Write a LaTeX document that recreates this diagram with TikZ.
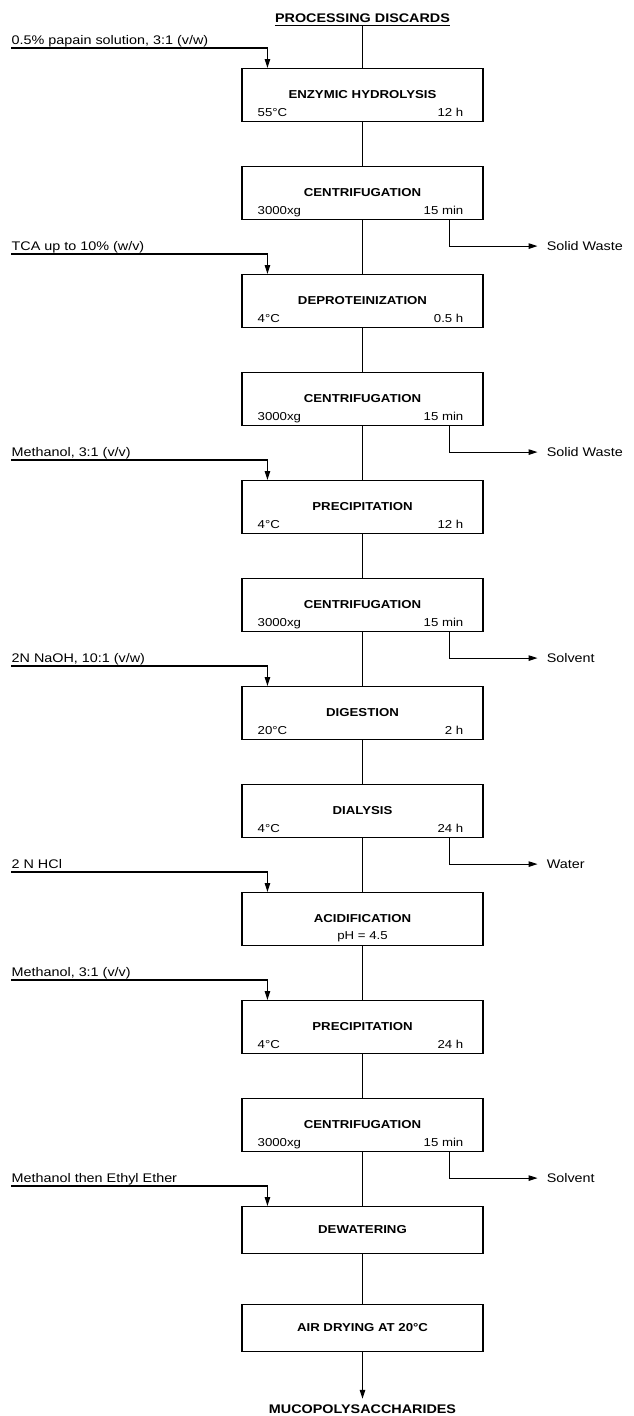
\documentclass[tikz,border=0pt]{standalone}
\usepackage{fontspec}
\setmainfont{Liberation Sans}[FakeStretch=1.15]
\usetikzlibrary{arrows.meta,calc}
\tikzset{
  box/.style={draw, line width=1.1pt, minimum width=241pt, inner sep=0pt, anchor=north},
  ttl/.style={font=\bfseries\fontsize{11.5}{13}\selectfont, inner sep=0pt, text height=8.2pt, text depth=0pt, anchor=base},
  sub/.style={font=\fontsize{11.5}{13}\selectfont, inner sep=0pt, text height=8.2pt, text depth=0pt},
  lab/.style={font=\fontsize{12.5}{14}\selectfont, inner sep=0pt, text height=9pt, text depth=0pt},
  flow/.style={line width=1.1pt},
  arr/.style={flow, -{Triangle[length=9pt,width=5.5pt]}},
}
\newcommand\procbox[5]{%
  \node[box, minimum height=53pt] (#1) at (362.5,#2) {};
  \node[ttl] (#1t) at ($(#1.north)+(0,30)$) {#3};
  \node[sub, anchor=base west] (#1l) at ($(#1.north west)+(16,48)$) {#4};
  \node[sub, anchor=base east] (#1r) at ($(#1.north east)+(-20,48)$) {#5};
}
\newcommand\feedline[3]{%
  \coordinate (#1s) at ($(#2.north west)+(-230,-20)$);
  \node[lab, anchor=base west] (#1) at ($(#1s)+(0,-4)$) {#3};
  \coordinate (#1e) at ($(#2.north west)+(26,0)$);
  \draw[arr] (#1s) -| (#1e);
}
\newcommand\wasteout[3]{%
  \coordinate (#1s) at ($(#2.south east)+(-34,0)$);
  \node[lab, anchor=base west] (#1) at ($(#1s)+(97,30.5)$) {#3};
  \draw[arr] (#1s) |- ([xshift=-9pt]#1.west);
}
\begin{document}
\begin{tikzpicture}[x=1pt,y=-1pt]
\useasboundingbox (0,0) rectangle (634,1416);

% title
\node[font=\bfseries\fontsize{12.5}{14}\selectfont, inner sep=0pt, text height=9pt, text depth=3pt, anchor=base] (top) at (362.5,22) {PROCESSING DISCARDS};
\draw[line width=1pt] (top.south west) -- (top.south east);

% boxes
\procbox{b1}{68}{ENZYMIC HYDROLYSIS}{55°C}{12 h}
\procbox{b2}{166}{CENTRIFUGATION}{3000xg}{15 min}
\procbox{b3}{274}{DEPROTEINIZATION}{4°C}{0.5 h}
\procbox{b4}{372}{CENTRIFUGATION}{3000xg}{15 min}
\procbox{b5}{480}{PRECIPITATION}{4°C}{12 h}
\procbox{b6}{578}{CENTRIFUGATION}{3000xg}{15 min}
\procbox{b7}{686}{DIGESTION}{20°C}{2 h}
\procbox{b8}{784}{DIALYSIS}{4°C}{24 h}
\node[box, minimum height=53pt] (b9) at (362.5,892) {};
\node[ttl] (b9t) at ($(b9.north)+(0,30)$) {ACIDIFICATION};
\node[sub, anchor=base] (b9l) at ($(b9.north)+(0,47)$) {pH = 4.5};
\procbox{b10}{1000}{PRECIPITATION}{4°C}{24 h}
\procbox{b11}{1098}{CENTRIFUGATION}{3000xg}{15 min}
\node[box, minimum height=47pt] (b12) at (362.5,1206) {};
\node[ttl] (b12t) at ($(b12.north)+(0,27.5)$) {DEWATERING};
\node[box, minimum height=47pt] (b13) at (362.5,1304) {};
\node[ttl] (b13t) at ($(b13.north)+(0,27.5)$) {AIR DRYING AT 20°C};

\node[font=\bfseries\fontsize{12.5}{14}\selectfont, inner sep=0pt, text height=9pt, text depth=0pt, anchor=base] (muco) at (362.5,1413) {MUCOPOLYSACCHARIDES};

% main flow
\draw[flow] (top.south) -- (b1.north);
\draw[flow] (b1) -- (b2);
\draw[flow] (b2) -- (b3);
\draw[flow] (b3) -- (b4);
\draw[flow] (b4) -- (b5);
\draw[flow] (b5) -- (b6);
\draw[flow] (b6) -- (b7);
\draw[flow] (b7) -- (b8);
\draw[flow] (b8) -- (b9);
\draw[flow] (b9) -- (b10);
\draw[flow] (b10) -- (b11);
\draw[flow] (b11) -- (b12);
\draw[flow] (b12) -- (b13);
\draw[arr, shorten >=5pt] (b13) -- (muco);

% feeds
\feedline{i1}{b1}{0.5\% papain solution, 3:1 (v/w)}
\feedline{i3}{b3}{TCA up to 10\% (w/v)}
\feedline{i5}{b5}{Methanol, 3:1 (v/v)}
\feedline{i7}{b7}{2N NaOH, 10:1 (v/w)}
\feedline{i9}{b9}{2 N HCl}
\feedline{i10}{b10}{Methanol, 3:1 (v/v)}
\feedline{i12}{b12}{Methanol then Ethyl Ether}

% outputs
\wasteout{o2}{b2}{Solid Waste}
\wasteout{o4}{b4}{Solid Waste}
\wasteout{o6}{b6}{Solvent}
\wasteout{o8}{b8}{Water}
\wasteout{o11}{b11}{Solvent}
\end{tikzpicture}
\end{document}
